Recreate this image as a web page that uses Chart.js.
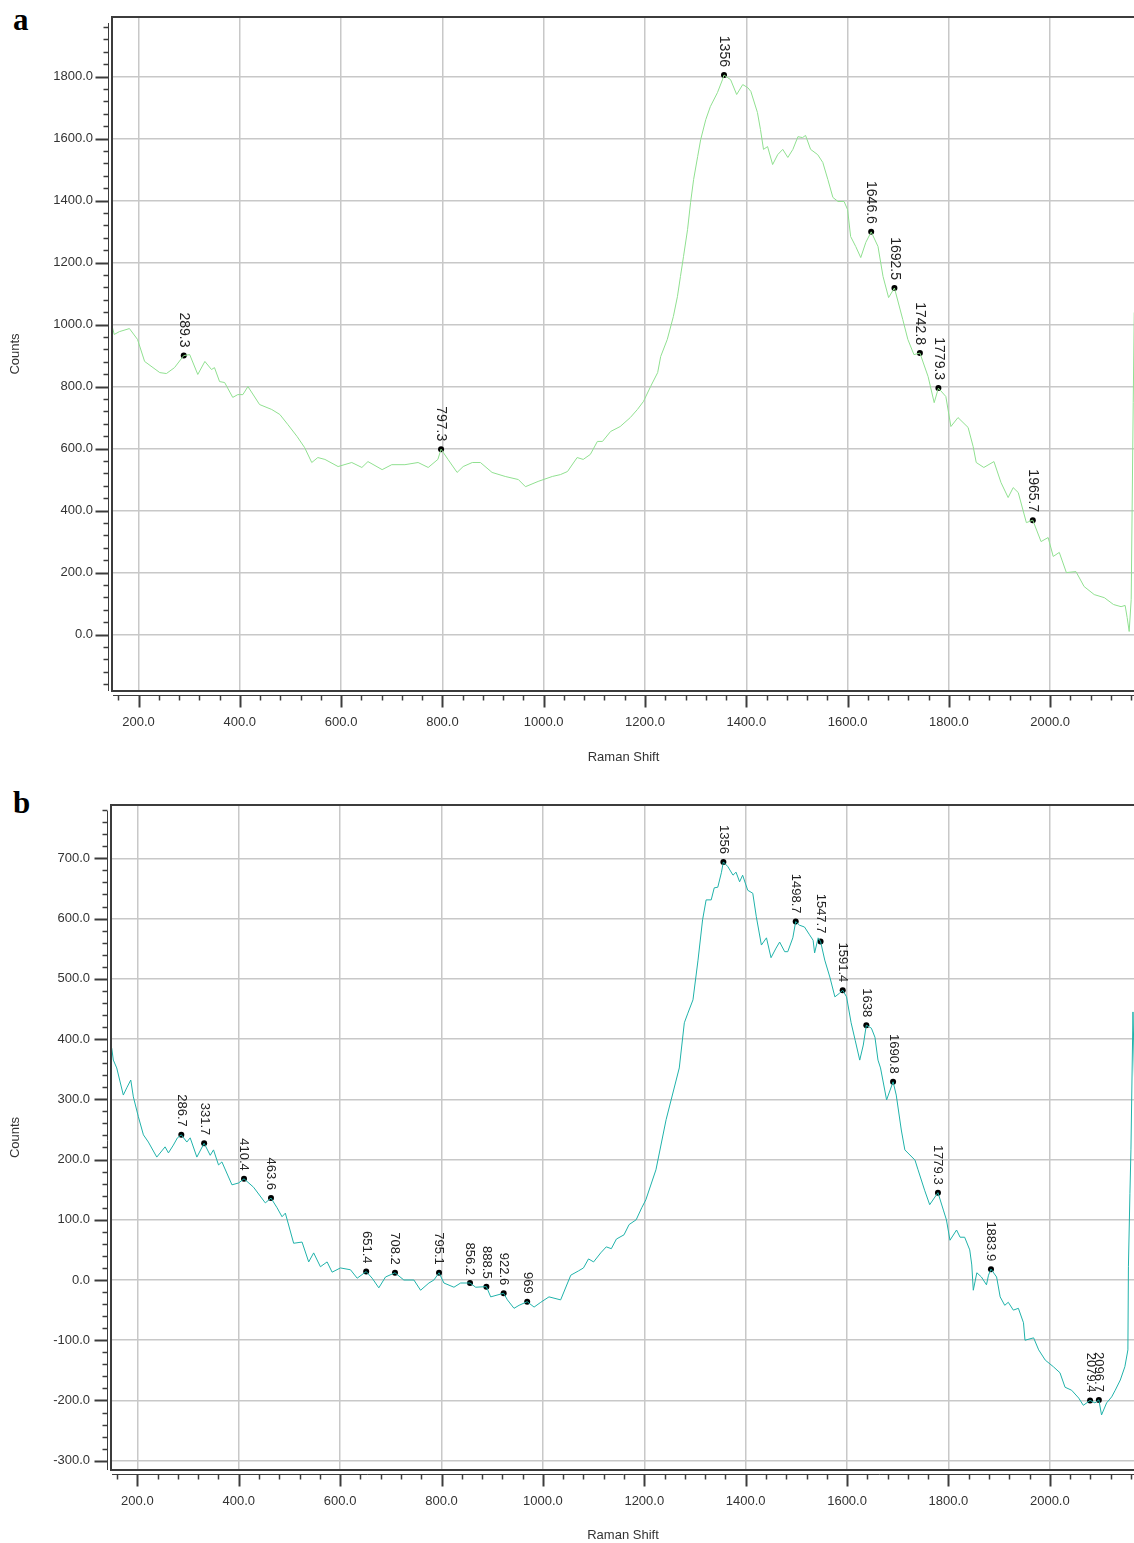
<!DOCTYPE html>
<html>
<head>
<meta charset="UTF-8">
<title>Raman spectra</title>
<script src="https://cdn.jsdelivr.net/npm/chart.js"></script>
<style>
    html, body {
        margin: 0;
        background: #fff;
        width: 1134px;
        height: 1543px;
        overflow: hidden;
    }
    body { position: relative; }
    .panel {
        position: absolute;
        left: 0;
    }
    #panelA { top: 0; }
    #panelB { top: 775px; }
    .tag {
        position: absolute;
        left: 13px;
        font-family: "Liberation Serif", "Times New Roman", serif;
        font-weight: bold;
        font-size: 31px;
        line-height: 1;
    }
</style>
</head>
<body>
<div class="tag" style="top:4px">a</div>
<div class="tag" style="top:787px">b</div>
<div class="panel" id="panelA"><canvas id="chartA" width="1139" height="775"></canvas></div>
<div class="panel" id="panelB"><canvas id="chartB" width="1139" height="768"></canvas></div>

<script>
// ---- panel a ----
const aShift = [147, 152, 162, 182, 198, 212, 242, 255, 271, 289.3, 301, 317, 331, 344, 350, 360, 370, 386, 396, 406,
    416, 439, 463, 479, 495, 513, 528, 542, 554, 568, 594, 621, 641, 653, 681, 700, 726, 752, 772, 791,
    797.3, 811, 829, 841, 859, 875, 898, 924, 950, 964, 989, 1017, 1033, 1047, 1066, 1078, 1092, 1106, 1116, 1132,
    1151, 1171, 1185, 1197, 1211, 1225, 1231, 1244, 1256, 1264, 1270, 1276, 1284, 1290, 1296, 1304, 1310, 1320, 1329, 1343,
    1353, 1356, 1369, 1381, 1393, 1403, 1409, 1422, 1428, 1434, 1442, 1452, 1462, 1472, 1482, 1492, 1502, 1511, 1517, 1527,
    1541, 1551, 1561, 1571, 1581, 1593, 1600, 1606, 1616, 1626, 1636, 1646.6, 1660, 1670, 1681, 1692.5, 1709, 1719, 1731, 1742.8,
    1759, 1771, 1779.3, 1794, 1804, 1818, 1838, 1848, 1854, 1869, 1889, 1903, 1917, 1927, 1937, 1953, 1965.7, 1982, 1996, 2006,
    2018, 2032, 2051, 2067, 2087, 2107, 2125, 2140, 2148, 2152, 2156, 2160, 2164, 2166];
const aCounts = [1000, 968, 977, 987, 952, 881, 845, 842, 861, 900, 903, 839, 881, 855, 861, 816, 813, 765, 774, 774,
    800, 742, 726, 710, 677, 639, 603, 555, 571, 565, 542, 555, 539, 558, 532, 548, 548, 555, 539, 565,
    598, 565, 523, 542, 555, 555, 523, 510, 500, 477, 494, 510, 516, 526, 571, 565, 581, 623, 623, 655,
    671, 700, 726, 752, 800, 845, 897, 952, 1026, 1090, 1155, 1219, 1306, 1394, 1468, 1542, 1597, 1661, 1703, 1748,
    1790, 1805, 1790, 1742, 1774, 1764, 1752, 1684, 1629, 1565, 1574, 1516, 1548, 1565, 1539, 1565, 1606, 1603, 1610, 1565,
    1548, 1523, 1468, 1410, 1397, 1397, 1371, 1284, 1252, 1216, 1265, 1299, 1252, 1155, 1087, 1118, 1016, 952, 903, 908,
    832, 748, 795, 768, 671, 700, 668, 606, 555, 539, 558, 490, 442, 474, 458, 361, 369, 300, 313, 252,
    265, 200, 203, 155, 129, 119, 97, 90, 94, 55, 10, 113, 748, 1039];
const aPeakShift = [289.3, 797.3, 1356, 1646.6, 1692.5, 1742.8, 1779.3, 1965.7];
const aPeakCounts = [900, 598, 1805, 1299, 1118, 908, 795, 369];
const aPeakLabels = ['289.3', '797.3', '1356', '1646.6', '1692.5', '1742.8', '1779.3', '1965.7'];
const aXTicks = [200, 400, 600, 800, 1000, 1200, 1400, 1600, 1800, 2000];
const aYTicks = [0, 200, 400, 600, 800, 1000, 1200, 1400, 1600, 1800];

// ---- panel b ----
const bShift = [149.4, 152.6, 159.3, 172.3, 179.1, 187, 192.1, 202, 211.9, 221.7, 238.3, 254.7, 261.3, 271.1, 279, 286.7, 297.6, 304.2, 317.4, 331.7,
    343.7, 350.2, 360.1, 366.8, 386.6, 399.6, 410.4, 429.2, 452.4, 463.6, 475.5, 485.4, 491.9, 508.3, 524.9, 538, 547.8, 561.1, 574.3, 584.2,
    600.6, 620.4, 633.6, 651.4, 663.2, 676.3, 689.5, 708.2, 725.7, 745.5, 758.7, 775.1, 785, 795.1, 804.7, 824.5, 837.7, 856.2, 867.4, 888.5,
    897, 922.6, 930, 943, 953, 969, 982.6, 995.8, 1012, 1035, 1055, 1070, 1080, 1090, 1100, 1114, 1125, 1135, 1145, 1160,
    1170, 1184, 1195, 1203, 1223, 1243, 1269, 1279,
    1286, 1296, 1306, 1315, 1322, 1332, 1338, 1345, 1352, 1356, 1365, 1375, 1381, 1388, 1394, 1404, 1414, 1421, 1431, 1441,
    1450, 1460, 1467, 1477, 1483, 1493, 1498.7, 1506, 1516, 1526, 1533, 1536, 1543, 1547.7, 1556, 1566, 1576, 1585, 1591.4, 1599,
    1608, 1616, 1625, 1632, 1638, 1648, 1655, 1661, 1666, 1678, 1690.8, 1697, 1707, 1714, 1734, 1740, 1753, 1763, 1776, 1779.3,
    1790, 1796, 1803, 1816, 1823, 1832, 1842, 1846, 1849, 1856, 1865, 1875, 1879, 1883.9, 1895, 1902, 1911, 1918, 1928, 1938,
    1948, 1951, 1968, 1978, 1991, 2007, 2020, 2030, 2043, 2057, 2066, 2079.4, 2089, 2096.7, 2102, 2112, 2122, 2129, 2139, 2148,
    2154, 2155, 2158, 2160, 2164, 2168];
const bCounts = [385, 365, 352, 307, 319, 332, 304, 271, 241, 229, 204, 221, 211, 224, 236, 241, 229, 236, 204, 227,
    207, 216, 191, 196, 158, 161, 168, 154, 128, 136, 120, 105, 111, 61, 63, 30, 45, 22, 30, 13,
    20, 17, 3, 14, 3, -13, 5, 12, 0, 0, -17, -5, 0, 12, -5, -12, -5, -5, -12, -11,
    -28, -22, -33, -47, -42, -36, -45, -37, -28, -33, 8, 15, 20, 35, 30, 45, 55, 52, 68, 75,
    92, 100, 120, 133, 183, 266, 352, 427,
    443, 465, 531, 598, 631, 631, 651, 652, 676, 694, 686, 672, 677, 661, 672, 647, 642, 603, 556, 568,
    535, 551, 561, 545, 545, 568, 595, 589, 586, 573, 564, 543, 568, 562, 531, 503, 470, 476, 481, 470,
    427, 398, 365, 390, 423, 418, 403, 365, 352, 299, 329, 307, 249, 216, 199, 183, 149, 125, 141, 145,
    116, 100, 66, 83, 71, 71, 50, 25, -17, 12, 5, -8, 8, 18, 5, -28, -42, -37, -50, -47,
    -71, -100, -96, -116, -133, -144, -154, -178, -183, -196, -208, -200, -204, -199, -224, -204, -194, -183, -166, -144,
    -116, 22, 144, 216, 445, 300];
const bPeakShift = [286.7, 331.7, 410.4, 463.6, 651.4, 708.2, 795.1, 856.2, 888.5, 922.6, 969, 1356, 1498.7, 1547.7, 1591.4, 1638, 1690.8, 1779.3, 1883.9, 2079.4, 2096.7];
const bPeakCounts = [241, 227, 168, 136, 14, 12, 12, -5, -11, -22, -36, 694, 595, 562, 481, 423, 329, 145, 18, -200, -199];
const bPeakLabels = ['286.7', '331.7', '410.4', '463.6', '651.4', '708.2', '795.1', '856.2', '888.5', '922.6', '969', '1356', '1498.7', '1547.7', '1591.4', '1638', '1690.8', '1779.3', '1883.9', '2079.4', '2096.7'];
const bXTicks = [200, 400, 600, 800, 1000, 1200, 1400, 1600, 1800, 2000];
const bYTicks = [-300, -200, -100, 0, 100, 200, 300, 400, 500, 600, 700];

const FONT = '"Liberation Sans", Arial, sans-serif';

// frame, offset axis lines with major/minor ticks, axis titles
const decor = {
    id: 'decor',
    afterDraw(chart, args, o) {
        const ctx = chart.ctx;
        const a = chart.chartArea;
        const xs = chart.scales.x, ys = chart.scales.y;
        ctx.save();
        ctx.strokeStyle = '#3c3c3c';
        ctx.lineWidth = 2;
        ctx.beginPath();
        ctx.moveTo(a.right, a.top);
        ctx.lineTo(a.left, a.top);
        ctx.lineTo(a.left, a.bottom);
        ctx.lineTo(a.right, a.bottom);
        ctx.stroke();

        const ax = a.left - 3.5, ay = a.bottom + 4.5;
        ctx.lineWidth = 1;
        ctx.beginPath();
        ctx.moveTo(ax, a.top + 6);
        ctx.lineTo(ax, a.bottom);
        ctx.moveTo(a.left + 1, ay);
        ctx.lineTo(a.right, ay);
        ctx.stroke();

        // x ticks
        for (let v = Math.ceil(xs.min / o.xMinor) * o.xMinor; v <= xs.max; v += o.xMinor) {
            const px = Math.round(xs.getPixelForValue(v)) + 0.5;
            const major = o.xTicks.includes(v);
            ctx.lineWidth = major ? 2 : 1.5;
            ctx.beginPath();
            ctx.moveTo(px, ay);
            ctx.lineTo(px, ay + (major ? 12 : 5));
            ctx.stroke();
        }
        // y ticks
        for (let v = Math.ceil(ys.min / o.yMinor) * o.yMinor; v <= ys.max; v += o.yMinor) {
            const py = Math.round(ys.getPixelForValue(v)) + 0.5;
            const major = o.yTicks.includes(v);
            ctx.lineWidth = major ? 2 : 1.5;
            ctx.beginPath();
            ctx.moveTo(ax, py);
            ctx.lineTo(ax - (major ? 13 : 5), py);
            ctx.stroke();
        }

        ctx.fillStyle = '#333';
        ctx.font = '13px ' + FONT;
        ctx.textAlign = 'center';
        ctx.textBaseline = 'middle';
        ctx.fillText('Raman Shift', (a.left + a.right) / 2, a.bottom + o.titleGap);
        ctx.translate(15, (a.top + a.bottom) / 2);
        ctx.rotate(-Math.PI / 2);
        ctx.fillText('Counts', 0, 0);
        ctx.restore();
    }
};

// vertical peak labels above the marker dots
const peakLabels = {
    id: 'peakLabels',
    afterDatasetsDraw(chart, args, o) {
        const ctx = chart.ctx;
        const xs = chart.scales.x, ys = chart.scales.y;
        ctx.save();
        ctx.fillStyle = '#222';
        ctx.font = o.size + 'px ' + FONT;
        ctx.textAlign = 'right';
        ctx.textBaseline = 'middle';
        o.shift.forEach((s, i) => {
            const px = xs.getPixelForValue(s);
            const py = ys.getPixelForValue(o.counts[i]);
            ctx.save();
            ctx.translate(px, py - 8);
            ctx.rotate(Math.PI / 2);
            ctx.fillText(o.labels[i], 0, 0);
            ctx.restore();
        });
        ctx.restore();
    }
};

function noPad(s) {
    s.paddingTop = 0;
    s.paddingBottom = 0;
    s.paddingLeft = 0;
    s.paddingRight = 0;
}

function spectrum(id, p) {
    return new Chart(document.getElementById(id), {
        type: 'line',
        data: {
            datasets: [{
                data: p.shift.map((s, i) => ({ x: s, y: p.counts[i] })),
                borderColor: p.color,
                borderWidth: 1,
                pointRadius: 0,
                tension: 0
            }, {
                type: 'scatter',
                data: p.peakShift.map((s, i) => ({ x: s, y: p.peakCounts[i] })),
                backgroundColor: '#000',
                borderColor: '#000',
                pointRadius: 3,
                borderWidth: 0
            }]
        },
        options: {
            responsive: false,
            animation: false,
            layout: { padding: { top: p.top, left: 0, right: 0, bottom: 0 } },
            plugins: {
                legend: { display: false },
                tooltip: { enabled: false },
                decor: { xMinor: 40, yMinor: p.yMinor, xTicks: p.xTicks, yTicks: p.yTicks, titleGap: p.titleGap },
                peakLabels: { shift: p.peakShift, counts: p.peakCounts, labels: p.peakLabels, size: p.labelSize }
            },
            scales: {
                x: {
                    type: 'linear',
                    min: p.xMin,
                    max: p.xMax,
                    afterBuildTicks: s => { s.ticks = p.xTicks.map(v => ({ value: v })); },
                    afterFit: s => { s.height = p.xHeight; noPad(s); },
                    grid: { color: '#c8c8c8', lineWidth: 1.5, drawTicks: false },
                    border: { display: false },
                    ticks: {
                        callback: v => v.toFixed(1),
                        color: '#333',
                        font: { size: 13, family: FONT },
                        padding: 24,
                        maxRotation: 0,
                        autoSkip: false
                    }
                },
                y: {
                    min: p.yMin,
                    max: p.yMax,
                    afterBuildTicks: s => { s.ticks = p.yTicks.map(v => ({ value: v })); },
                    afterFit: s => { s.width = p.yWidth; noPad(s); },
                    grid: { color: '#c8c8c8', lineWidth: 1.5, drawTicks: false },
                    border: { display: false },
                    ticks: {
                        callback: v => v.toFixed(1),
                        color: '#333',
                        font: { size: 13, family: FONT },
                        padding: p.yPad
                    }
                }
            }
        },
        plugins: [decor, peakLabels]
    });
}

spectrum('chartA', {
    shift: aShift, counts: aCounts,
    peakShift: aPeakShift, peakCounts: aPeakCounts, peakLabels: aPeakLabels,
    xTicks: aXTicks, yTicks: aYTicks,
    color: '#90e090',
    xMin: 147.6, xMax: 2167.5, yMin: -182, yMax: 1992,
    top: 17, xHeight: 84, yWidth: 112, yPad: 19, yMinor: 40,
    titleGap: 66, labelSize: 14
});

spectrum('chartB', {
    shift: bShift, counts: bCounts,
    peakShift: bPeakShift, peakCounts: bPeakCounts, peakLabels: bPeakLabels,
    xTicks: bXTicks, yTicks: bYTicks,
    color: '#20b2aa',
    xMin: 148, xMax: 2168, yMin: -315.4, yMax: 788.5,
    top: 30, xHeight: 73, yWidth: 111, yPad: 21, yMinor: 20,
    titleGap: 65, labelSize: 13
});
</script>
</body>
</html>
